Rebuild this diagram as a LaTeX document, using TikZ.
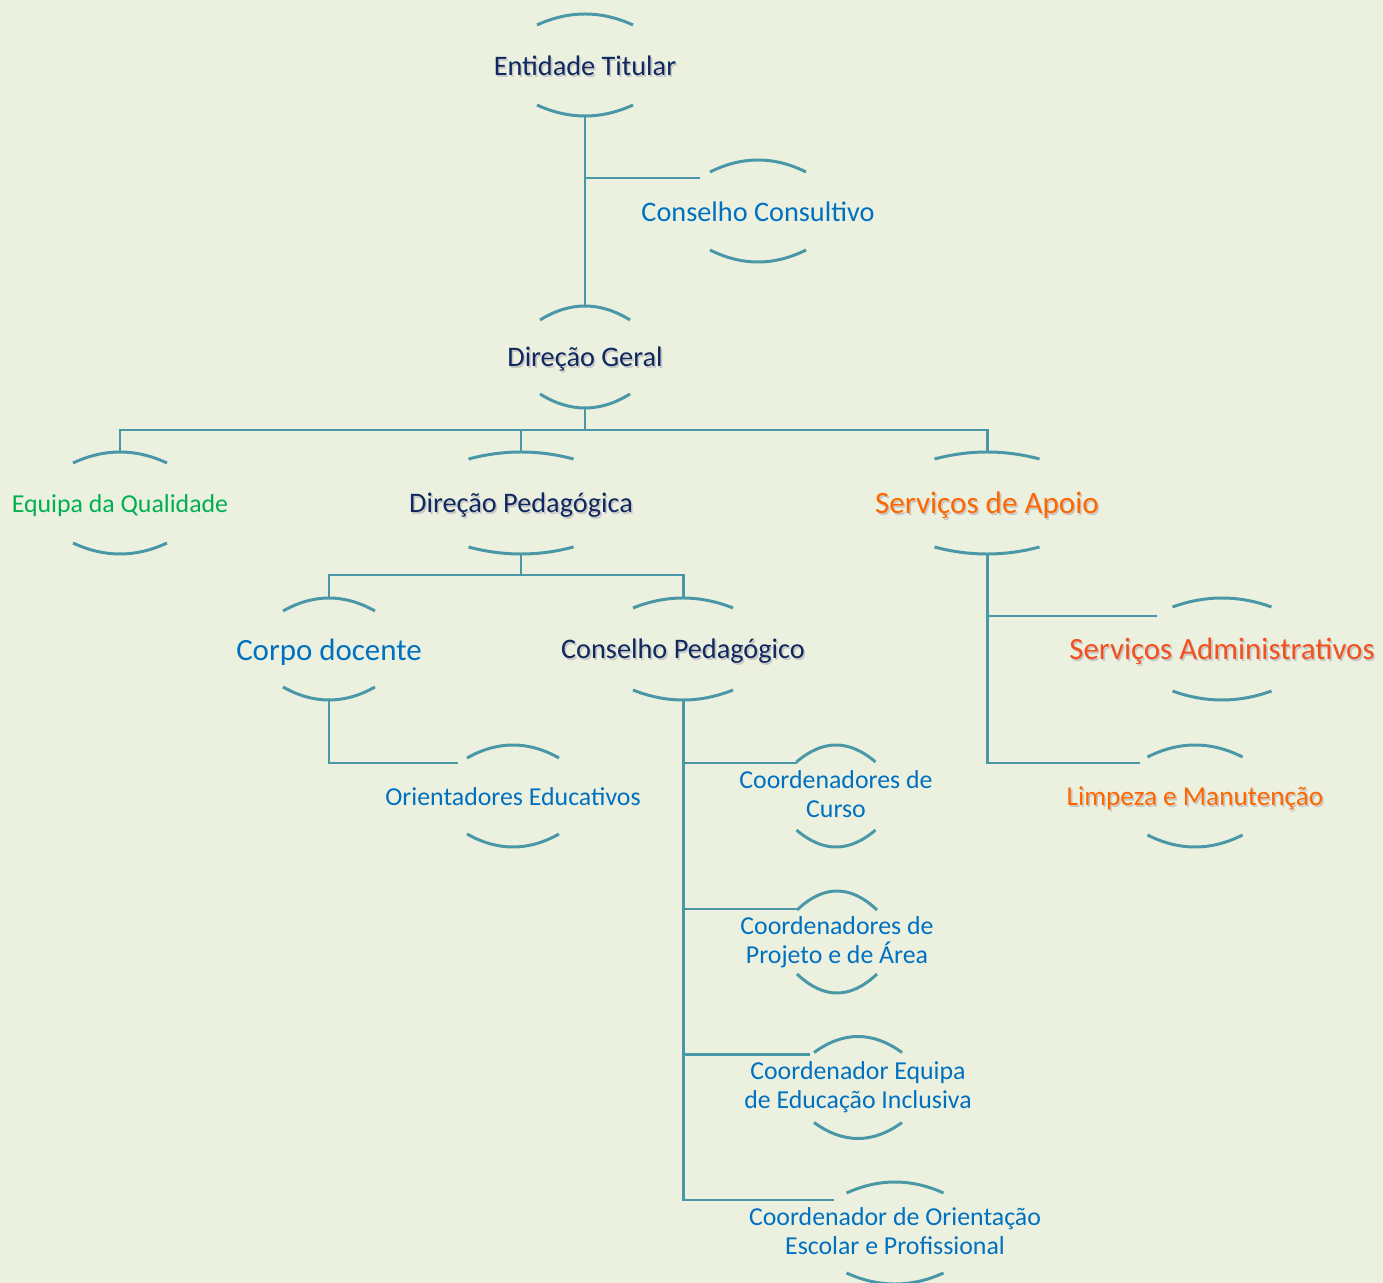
\documentclass[tikz,border=0pt]{standalone}
\usepackage{fontspec}
\setmainfont{Carlito}
\usetikzlibrary{calc}

\definecolor{fundo}{HTML}{EBF1DE}
\definecolor{linha}{HTML}{4A97A8}
\definecolor{marinho}{HTML}{10285F}
\definecolor{azul}{HTML}{0070C0}
\definecolor{verde}{HTML}{00B050}
\definecolor{laranja}{HTML}{FF6600}
\definecolor{vermelho}{HTML}{F2501E}

\newcommand\capstrut{\rule[-0.18em]{0pt}{1.1em}}
\newcommand\txtshadow[1]{\rlap{\kern0.9pt\raisebox{-0.9pt}{\color{black!22}#1}}#1}
% arcs above and below a unit: name, half width, sag
\newcommand\unitarcs[3]{%
  \draw[unitarc] ($(#1)+(-#2,-51+#3)$) .. controls ($(#1)+(-#2/3,-51-#3/3)$) and ($(#1)+(#2/3,-51-#3/3)$) .. ($(#1)+(#2,-51+#3)$);
  \draw[unitarc] ($(#1)+(-#2,51-#3)$) .. controls ($(#1)+(-#2/3,51+#3/3)$) and ($(#1)+(#2/3,51+#3/3)$) .. ($(#1)+(#2,51-#3)$);
  \coordinate (#1-n) at ($(#1)+(0,-51)$);
  \coordinate (#1-s) at ($(#1)+(0,51)$);
}

\tikzset{
  unitarc/.style={draw=linha, line width=1.7pt},
  link/.style={draw=linha, line width=1.7pt},
  unit/.style={align=center, inner sep=0pt,
    execute at begin node=\capstrut, execute at end node=\capstrut},
  topo/.style={unit, text=marinho, font=\fontsize{16.1}{18}\selectfont},
  azulmed/.style={unit, text=azul, font=\fontsize{16.1}{18}\selectfont},
  azulgr/.style={unit, text=azul, font=\fontsize{17.6}{20}\selectfont},
  azulpq/.style={unit, text=azul, font=\fontsize{14.7}{16.5}\selectfont},
  verdepq/.style={unit, text=verde, font=\fontsize{14.7}{16.5}\selectfont},
  apoio/.style={unit, text=laranja, font=\fontsize{17.7}{20}\selectfont},
  apoiopq/.style={unit, text=laranja, font=\fontsize{15.5}{17.5}\selectfont},
  admin/.style={unit, text=vermelho, font=\fontsize{17.6}{20}\selectfont}
}

\begin{document}
\begin{tikzpicture}[x=0.02cm, y=-0.02cm]
    \fill[fundo] (0,0) rectangle (1383,1283);
    \useasboundingbox (0,0) rectangle (1383,1283);

    % units
    \node[topo] (et) at (585,65) {\txtshadow{Entidade Titular}};
    \node[azulmed] (cc) at (758,211) {Conselho Consultivo};
    \node[topo] (dg) at (585,357) {\txtshadow{Direção Geral}};
    \node[verdepq] (eq) at (120,503) {Equipa da Qualidade};
    \node[topo] (dp) at (521,503) {\txtshadow{Direção Pedagógica}};
    \node[apoio] (sa) at (987,503) {\txtshadow{Serviços de Apoio}};
    \node[azulgr] (cd) at (329,649) {Corpo docente};
    \node[topo] (cp) at (683,649) {\txtshadow{Conselho Pedagógico}};
    \node[admin] (sadm) at (1222,649) {\txtshadow{Serviços Administrativos}};
    \node[azulpq] (oe) at (513,796) {Orientadores Educativos};
    \node[apoiopq] (lm) at (1195,796) {\txtshadow{Limpeza e Manutenção}};
    \node[azulpq] (ccur) at (836,796) {Coordenadores de\\Curso};
    \node[azulpq] (cpa) at (837,942) {Coordenadores de\\Projeto e de Área};
    \node[azulpq] (cei) at (858,1087.5) {Coordenador Equipa\\de Educação Inclusiva};
    \node[azulpq] (cor) at (895,1233) {Coordenador de Orientação\\Escolar e Profissional};

    \unitarcs{et}{48}{11}
    \unitarcs{cc}{48}{12}
    \unitarcs{dg}{45}{14}
    \unitarcs{eq}{47}{11}
    \unitarcs{dp}{52.5}{7}
    \unitarcs{sa}{52.5}{7}
    \unitarcs{cd}{46}{13}
    \unitarcs{cp}{50}{10}
    \unitarcs{sadm}{49.5}{9}
    \unitarcs{oe}{46}{13}
    \unitarcs{lm}{47.5}{12}
    \unitarcs{ccur}{39.5}{17}
    \unitarcs{cpa}{40}{19}
    \unitarcs{cei}{44}{16}
    \unitarcs{cor}{48.5}{11}

    % branch ends
    \coordinate (cc-in) at ($(cc)+(-58,-33)$);
    \coordinate (sadm-in) at ($(sadm)+(-65,-33)$);
    \coordinate (lm-in) at ($(lm)+(-55,-33)$);
    \coordinate (oe-in) at ($(oe)+(-55,-33)$);
    \coordinate (ccur-in) at ($(ccur)+(-39,-33)$);
    \coordinate (cpa-in) at ($(cpa)+(-40,-33)$);
    \coordinate (cei-in) at ($(cei)+(-48,-33)$);
    \coordinate (cor-in) at ($(cor)+(-61,-33)$);
    \coordinate (bus1) at ($(dg-s)+(0,22)$);
    \coordinate (bus2) at ($(dp-s)+(0,21)$);

    % connectors
    \draw[link] (et-s) -- (dg-n);
    \draw[link] (et-s |- cc-in) -- (cc-in);
    \draw[link] (dg-s) -- (bus1);
    \draw[link] (eq-n) |- (bus1) -| (sa-n);
    \draw[link] (bus1 -| dp-n) -- (dp-n);
    \draw[link] (dp-s) -- (bus2);
    \draw[link] (cd-n) |- (bus2) -| (cp-n);
    \draw[link] (cd-s) |- (oe-in);
    \draw[link] (cp-s) |- (cor-in);
    \draw[link] (cp-s |- ccur-in) -- (ccur-in);
    \draw[link] (cp-s |- cpa-in) -- (cpa-in);
    \draw[link] (cp-s |- cei-in) -- (cei-in);
    \draw[link] (sa-s) |- (lm-in);
    \draw[link] (sa-s |- sadm-in) -- (sadm-in);
\end{tikzpicture}
\end{document}
